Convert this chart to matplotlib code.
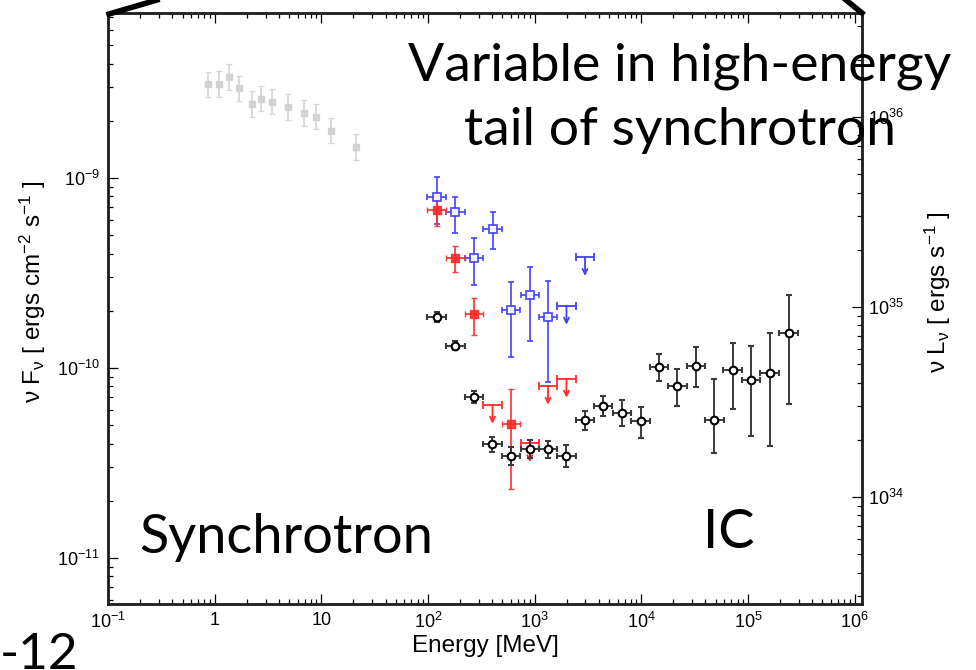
import numpy as np
import matplotlib
matplotlib.use('Agg')
import matplotlib.pyplot as plt
from matplotlib.lines import Line2D

plt.rcParams['font.family'] = ['Liberation Sans', 'DejaVu Sans']
plt.rcParams['mathtext.default'] = 'regular'

# grey points (low energy synchrotron)
gray_E = [0.86, 1.11, 1.36, 1.71, 2.24, 2.74, 3.47, 4.9, 6.82, 8.85, 12.2, 21.1]
gray_F = [3.11e-9, 3.13e-9, 3.39e-9, 2.96e-9, 2.45e-9, 2.61e-9, 2.52e-9, 2.37e-9, 2.19e-9, 2.10e-9, 1.77e-9, 1.46e-9]
gray_lo = [2.66e-9, 2.68e-9, 2.90e-9, 2.54e-9, 2.10e-9, 2.24e-9, 2.16e-9, 2.03e-9, 1.88e-9, 1.80e-9, 1.52e-9, 1.25e-9]
gray_hi = [3.63e-9, 3.65e-9, 3.96e-9, 3.45e-9, 2.86e-9, 3.05e-9, 2.94e-9, 2.77e-9, 2.56e-9, 2.45e-9, 2.07e-9, 1.70e-9]

# blue (flare)
blue_E = [121, 181, 271, 405, 603, 902, 1337]
blue_F = [7.94e-10, 6.59e-10, 3.81e-10, 5.41e-10, 2.01e-10, 2.42e-10, 1.86e-10]
blue_lo = [5.69e-10, 5.15e-10, 2.74e-10, 4.23e-10, 1.14e-10, 1.39e-10, 8.4e-11]
blue_hi = [1.01e-9, 7.94e-10, 4.85e-10, 6.62e-10, 2.84e-10, 3.41e-10, 2.88e-10]
blue_ul_E = [1990, 2970]
blue_ul_F = [2.13e-10, 3.84e-10]

# red (flare)
red_E = [121, 181, 271, 603]
red_F = [6.76e-10, 3.79e-10, 1.92e-10, 5.07e-11]
red_lo = [5.57e-10, 3.19e-10, 1.49e-10, 2.30e-11]
red_hi = [8.13e-10, 4.41e-10, 2.33e-10, 7.78e-11]
red_ul_E = [403, 902, 1337, 1990]
red_ul_F = [6.41e-11, 4.02e-11, 8.07e-11, 8.79e-11]

# black (average)
black_E = [121, 181, 271, 403, 603, 902, 1337, 1990, 2970, 4390, 6610, 9900,
           14700, 21800, 32600, 48500, 72000, 107000, 160000, 241000]
black_F = [1.86e-10, 1.31e-10, 7.03e-11, 3.96e-11, 3.44e-11, 3.73e-11, 3.73e-11, 3.44e-11,
           5.32e-11, 6.31e-11, 5.82e-11, 5.24e-11, 1.01e-10, 8.07e-11, 1.03e-10, 5.31e-11,
           9.79e-11, 8.67e-11, 9.44e-11, 1.52e-10]
black_lo = [1.75e-10, 1.24e-10, 6.56e-11, 3.61e-11, 3.08e-11, 3.35e-11, 3.36e-11, 3.03e-11,
            4.74e-11, 5.58e-11, 4.98e-11, 4.26e-11, 8.51e-11, 6.31e-11, 7.91e-11, 3.57e-11,
            6.08e-11, 4.38e-11, 3.87e-11, 6.44e-11]
black_hi = [1.98e-10, 1.38e-10, 7.53e-11, 4.35e-11, 3.85e-11, 4.16e-11, 4.15e-11, 3.91e-11,
            5.97e-11, 7.13e-11, 6.81e-11, 6.22e-11, 1.19e-10, 9.89e-11, 1.29e-10, 8.73e-11,
            1.36e-10, 1.31e-10, 1.52e-10, 2.42e-10]

half_bin = 0.087  # dex
lum_factor = 10**44.679  # nuFnu -> nuLnu

xticks = [0.1, 1, 10, 1e2, 1e3, 1e4, 1e5, 1e6]
xticklabels = ['$10^{-1}$', '1', '10', '$10^{2}$', '$10^{3}$', '$10^{4}$', '$10^{5}$', '$10^{6}$']


def xerr(E):
    E = np.array(E, float)
    return [E - E * 10**-half_bin, E * 10**half_bin - E]


def yerr(F, lo, hi):
    F = np.array(F)
    return [F - np.array(lo), np.array(hi) - F]


def upper_limits(ax, E, F, color):
    ax.errorbar(E, F, xerr=xerr(E), fmt='none', ecolor=color, elinewidth=1.3, capsize=3, capthick=1.3)
    for e, f in zip(E, F):
        ax.annotate('', xy=(e, f * 10**-0.1), xytext=(e, f),
                    arrowprops=dict(arrowstyle='->', color=color, lw=1.3, shrinkA=0, shrinkB=0,
                                    mutation_scale=9))


fig = plt.figure(figsize=(9.76, 6.70), dpi=100)
ax = fig.add_axes([108/976, 1 - 604/670, 754/976, 591/670])

ax.errorbar(gray_E, gray_F, yerr=yerr(gray_F, gray_lo, gray_hi), fmt='s', ms=5, color='#d2d2d2',
            ecolor='#d8d8d8', elinewidth=1.3, capsize=2.5)

blue = '#3f3fff'
ax.errorbar(blue_E, blue_F, yerr=yerr(blue_F, blue_lo, blue_hi), xerr=xerr(blue_E), fmt='s', ms=6,
            mfc='white', mec=blue, mew=1.3, ecolor=blue, elinewidth=1.3, capsize=2.5, alpha=0.9)
upper_limits(ax, blue_ul_E, blue_ul_F, blue)

red = '#ff2a2a'
ax.errorbar(red_E, red_F, yerr=yerr(red_F, red_lo, red_hi), xerr=xerr(red_E), fmt='s', ms=5.5,
            mfc=red, mec=red, ecolor=red, elinewidth=1.3, capsize=2.5, alpha=0.9)
upper_limits(ax, red_ul_E, red_ul_F, red)

ax.errorbar(black_E, black_F, yerr=yerr(black_F, black_lo, black_hi), xerr=xerr(black_E), fmt='o',
            ms=5.5, mfc='white', mec='black', mew=1.5, ecolor='#3a3a3a', elinewidth=1.4, capsize=2.5,
            zorder=5)

ax.set_xscale('log')
ax.set_yscale('log')
ax.set_xlim(0.1, 10**6.07)
ylim = (10**-11.242, 10**-8.132)
ax.set_ylim(*ylim)
ax.set_xticks(xticks)
ax.set_xticklabels(xticklabels)
ax.set_yticks([1e-11, 1e-10, 1e-9])
ax.set_yticklabels(['$10^{-11}$', '$10^{-10}$', '$10^{-9}$'])
ax.tick_params(which='both', direction='in', top=True, right=False, labelsize=13, width=0.9)
ax.tick_params(which='major', length=7, pad=6)
ax.tick_params(which='minor', length=3.5)
ax.set_xlabel('Energy [MeV]', fontsize=17.5, labelpad=2)
ax.set_ylabel('ν F$_{ν}$ [ ergs cm$^{-2}$ s$^{-1}$ ]', fontsize=17.5)
ax.yaxis.set_label_coords(-0.08, 0.528)

ax2 = ax.twinx()
ax2.set_yscale('log')
ax2.set_ylim(ylim[0] * lum_factor, ylim[1] * lum_factor)
ax2.set_yticks([1e34, 1e35, 1e36])
ax2.set_yticklabels(['$10^{34}$', '$10^{35}$', '$10^{36}$'])
ax2.tick_params(which='both', direction='in', labelsize=13, width=0.9)
ax2.tick_params(which='major', length=7, pad=4)
ax2.tick_params(which='minor', length=3.5)
ax2.set_ylabel('ν L$_{ν}$ [ ergs s$^{-1}$ ]', fontsize=17.5)
ax2.yaxis.set_label_coords(1.08, 0.528)
for a in (ax, ax2):
    for s in a.spines.values():
        s.set_linewidth(1.8)
        s.set_color('#222222')

# slide annotations
big = ['Lato', 'DejaVu Sans']
fig.text(680/976, 1 - 66/670, 'Variable in high-energy', ha='center', va='center', fontsize=38.5, family=big)
fig.text(680/976, 1 - 131/670, 'tail of synchrotron', ha='center', va='center', fontsize=38.5, family=big)
fig.text(286/976, 1 - 538/670, 'Synchrotron', ha='center', va='center', fontsize=39, family=big)
fig.text(729/976, 1 - 532/670, 'IC', ha='center', va='center', fontsize=39, family=big)
fig.text(0, 1 - 655/670, '-12', ha='left', va='center', fontsize=37, family=big)

fig.add_artist(Line2D([109/976, 157/976], [1 - 14/670, 1.0], color='black', lw=4, transform=fig.transFigure))
fig.add_artist(Line2D([846/976, 862/976], [1.0, 1 - 13/670], color='black', lw=4, transform=fig.transFigure))

fig.savefig('out.png', dpi=100)
